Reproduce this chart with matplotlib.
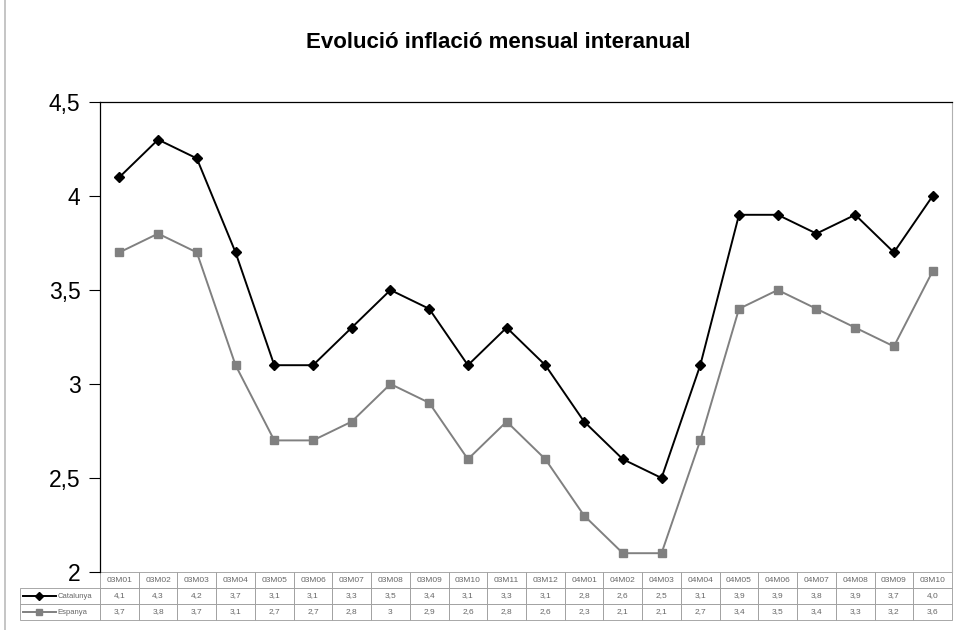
import matplotlib
matplotlib.use("Agg")
import matplotlib.pyplot as plt
import matplotlib.ticker as ticker
from matplotlib.lines import Line2D

plt.rcParams["font.family"] = ["Liberation Sans", "DejaVu Sans"]

months = ["03M01", "03M02", "03M03", "03M04", "03M05", "03M06", "03M07", "03M08",
          "03M09", "03M10", "03M11", "03M12", "04M01", "04M02", "04M03", "04M04",
          "04M05", "04M06", "04M07", "04M08", "03M09", "03M10"]
catalunya = [4.1, 4.3, 4.2, 3.7, 3.1, 3.1, 3.3, 3.5, 3.4, 3.1, 3.3, 3.1,
             2.8, 2.6, 2.5, 3.1, 3.9, 3.9, 3.8, 3.9, 3.7, 4.0]
espanya = [3.7, 3.8, 3.7, 3.1, 2.7, 2.7, 2.8, 3.0, 2.9, 2.6, 2.8, 2.6,
           2.3, 2.1, 2.1, 2.7, 3.4, 3.5, 3.4, 3.3, 3.2, 3.6]
cat_labels = ["4,1", "4,3", "4,2", "3,7", "3,1", "3,1", "3,3", "3,5", "3,4", "3,1", "3,3",
              "3,1", "2,8", "2,6", "2,5", "3,1", "3,9", "3,9", "3,8", "3,9", "3,7", "4,0"]
esp_labels = ["3,7", "3,8", "3,7", "3,1", "2,7", "2,7", "2,8", "3", "2,9", "2,6", "2,8",
              "2,6", "2,3", "2,1", "2,1", "2,7", "3,4", "3,5", "3,4", "3,3", "3,2", "3,6"]

cat_color = "black"
esp_color = "#808080"
grid_color = "#9a9a9a"
txt_color = "#666666"

fig = plt.figure(figsize=(9.6, 6.3), dpi=100)
ax = fig.add_axes([100 / 960, 1 - 572 / 630, 852 / 960, 470 / 630])

x = range(len(months))
ax.plot(x, catalunya, color=cat_color, marker="D", markersize=5.5, linewidth=1.4)
ax.plot(x, espanya, color=esp_color, marker="s", markersize=5.5, linewidth=1.4)

ax.set_xlim(-0.5, len(months) - 0.5)
ax.set_ylim(2, 4.5)
ax.yaxis.set_major_locator(ticker.MultipleLocator(0.5))
ax.yaxis.set_major_formatter(ticker.FuncFormatter(lambda v, p: f"{v:g}".replace(".", ",")))
ax.tick_params(axis="y", labelsize=16.5, length=8, width=0.8, direction="out", pad=6)
ax.set_xticks([])
ax.spines["bottom"].set_visible(False)
ax.spines["right"].set_color("#b0b0b0")
ax.spines["right"].set_linewidth(0.8)
ax.spines["left"].set_linewidth(0.9)
ax.spines["top"].set_linewidth(0.9)

fig.text(0.519, 1 - 42 / 630, "Evolució inflació mensual interanual",
         ha="center", va="center", fontsize=16, fontweight="bold")

# data table under the plot
cell_text = [[""] + months, [""] + cat_labels, [""] + esp_labels]
row_h = 16 / 470
label_w = 80 / 852
tab = ax.table(cellText=cell_text, cellLoc="center", loc="bottom",
               bbox=[-label_w, -3 * row_h, 1 + label_w, 3 * row_h])
tab.auto_set_font_size(False)
for (r, c), cell in tab.get_celld().items():
    cell.set_edgecolor(grid_color)
    cell.set_linewidth(0.6)
    cell.get_text().set_fontsize(6)
    cell.get_text().set_color(txt_color)
    cell.set_width(label_w if c == 0 else 1 / len(months))
    if r == 0 and c == 0:
        cell.visible_edges = ""

# legend keys in the row labels
for i, (col, mk, name) in enumerate([(cat_color, "D", "Catalunya"), (esp_color, "s", "Espanya")]):
    yy = -(1.5 + i) * row_h
    ax.add_line(Line2D([-label_w + 0.003, -label_w + 0.042], [yy, yy], color=col,
                       linewidth=1.4, transform=ax.transAxes, clip_on=False))
    ax.add_line(Line2D([-label_w + 0.0225], [yy], color=col, marker=mk, markersize=4,
                       transform=ax.transAxes, clip_on=False))
    ax.text(-label_w + 0.044, yy, name, transform=ax.transAxes, fontsize=5.5,
            color=txt_color, va="center", ha="left")

fig.add_artist(Line2D([5 / 960, 5 / 960], [0, 1], color="#bbbbbb", linewidth=1.2))

fig.savefig("out.png", dpi=100)
